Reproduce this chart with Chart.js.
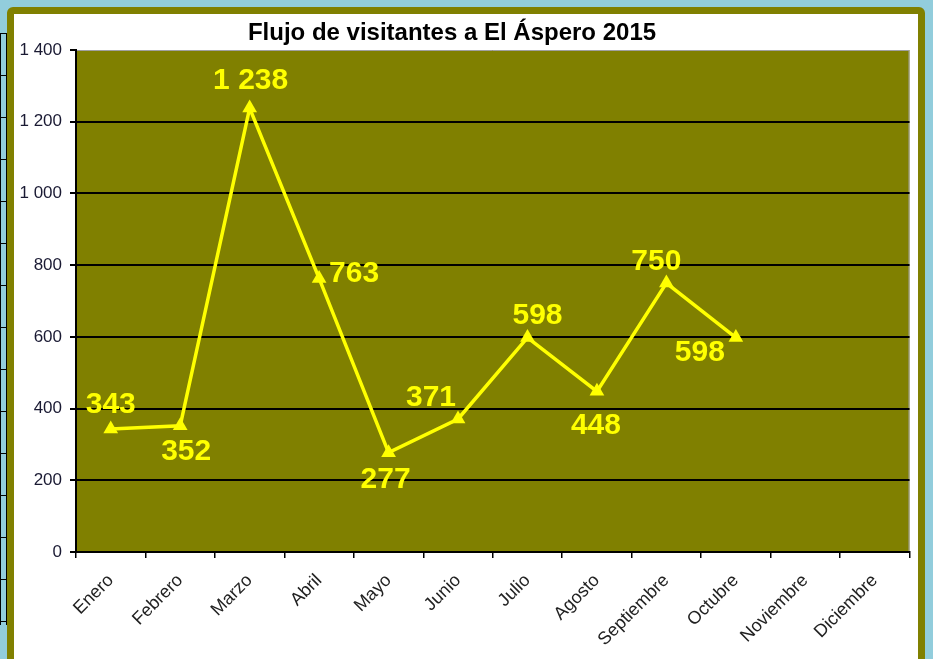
<!DOCTYPE html>
<html lang="es">
<head>
  <meta charset="UTF-8">
  <title>Flujo de visitantes a El Áspero 2015</title>
  <script src="https://cdn.jsdelivr.net/npm/chart.js"></script>
  <style>
    html, body {
      margin: 0;
      padding: 0;
      width: 933px;
      height: 659px;
      overflow: hidden;
      background: #92cddc;
      font-family: "Liberation Sans", Arial, sans-serif;
    }
    /* tira de tabla a la izquierda */
    #strip {
      position: absolute;
      left: 0;
      top: 33px;
      width: 5px;
      height: 592px;
      border-left: 1px solid #000;
      border-right: 1px solid #000;
      background: repeating-linear-gradient(to bottom, #000 0px, #000 1px, transparent 1px, transparent 42px);
    }
    #frame {
      position: absolute;
      left: 7px;
      top: 7px;
      width: 904px;
      height: 700px;
      border: 7px solid #808000;
      border-radius: 6px;
      background: #fff;
    }
    #chart {
      position: absolute;
      left: 14px;
      top: 14px;
    }
  </style>
</head>
<body>
  <div id="strip"></div>
  <div id="frame"></div>
  <canvas id="chart" width="904" height="645"></canvas>

  <script>
    // Datos del gráfico
    const meses = ["Enero", "Febrero", "Marzo", "Abril", "Mayo", "Junio", "Julio",
                   "Agosto", "Septiembre", "Octubre", "Noviembre", "Diciembre"];
    const visitantes = [343, 352, 1238, 763, 277, 371, 598, 448, 750, 598, null, null];
    const ejeY = { min: 0, max: 1400, paso: 200 };

    // separador de miles con espacio (1 400)
    const formato = v => String(v).replace(/\B(?=(\d{3})+(?!\d))/g, " ");

    // desplazamiento de cada etiqueta respecto a su punto (px)
    const desplazamientos = [
      [0, -24], [6, 26], [1, -27], [35, -5], [-3, 27],
      [-27, -21], [10, -22], [-1, 34], [-10, -21], [-36, 15]
    ];

    const fondoPlot = {
      id: "fondoPlot",
      beforeDraw(chart) {
        const { ctx, chartArea: a } = chart;
        ctx.save();
        ctx.fillStyle = "#808000";
        ctx.fillRect(a.left, a.top, a.right - a.left, a.bottom - a.top);
        ctx.strokeStyle = "#a0a0a0";
        ctx.lineWidth = 1;
        ctx.beginPath();
        ctx.moveTo(a.left, a.top + 0.5);
        ctx.lineTo(a.right - 0.5, a.top + 0.5);
        ctx.lineTo(a.right - 0.5, a.bottom);
        ctx.stroke();
        // título
        ctx.fillStyle = "#000";
        ctx.font = "bold 24px 'Liberation Sans', Arial, sans-serif";
        ctx.textAlign = "center";
        ctx.textBaseline = "middle";
        ctx.fillText("Flujo de visitantes a El Áspero 2015", chart.width / 2 - 14, 19);
        ctx.restore();
      }
    };

    const etiquetas = {
      id: "etiquetas",
      afterDatasetsDraw(chart) {
        const { ctx } = chart;
        const meta = chart.getDatasetMeta(0);
        ctx.save();
        ctx.fillStyle = "#ffff00";
        ctx.font = "bold 30px 'Liberation Sans', Arial, sans-serif";
        ctx.textAlign = "center";
        ctx.textBaseline = "middle";
        meta.data.forEach((pt, i) => {
          const v = visitantes[i];
          if (v === null || !desplazamientos[i]) return;
          const [dx, dy] = desplazamientos[i];
          ctx.fillText(formato(v), pt.x + dx, pt.y + dy);
        });
        ctx.restore();
      }
    };

    new Chart(document.getElementById("chart"), {
      type: "line",
      data: {
        labels: meses,
        datasets: [{
          data: visitantes,
          borderColor: "#ffff00",
          backgroundColor: "#ffff00",
          borderWidth: 3.5,
          pointStyle: "triangle",
          pointRadius: 8.5,
          pointBorderWidth: 0,
          tension: 0,
          spanGaps: false
        }]
      },
      options: {
        responsive: false,
        animation: false,
        layout: { padding: { top: 36, right: 8, left: 0, bottom: 0 } },
        plugins: {
          legend: { display: false },
          title: { display: false },
          tooltip: { enabled: false }
        },
        scales: {
          x: {
            offset: true,
            afterFit(s) { s.height = 107; },
            grid: {
              offset: true,
              drawOnChartArea: false,
              drawTicks: true,
              tickLength: 6,
              color: "#000",
              lineWidth: 1.5
            },
            border: { color: "#000", width: 2 },
            ticks: {
              autoSkip: false,
              maxRotation: 45,
              minRotation: 45,
              padding: 12,
              color: "#222",
              font: { family: "'Liberation Sans', Arial, sans-serif", size: 18 }
            }
          },
          y: {
            min: ejeY.min,
            max: ejeY.max,
            afterFit(s) { s.width = 62; },
            grid: {
              color: c => (c.tick && c.tick.value === ejeY.max) ? "rgba(0,0,0,0)" : "#000",
              tickColor: "#000",
              lineWidth: 2,
              tickLength: 6
            },
            border: { color: "#000", width: 2 },
            ticks: {
              stepSize: ejeY.paso,
              padding: 8,
              color: "#1a1a33",
              font: { family: "'Liberation Sans', Arial, sans-serif", size: 17 },
              callback: v => formato(v)
            }
          }
        }
      },
      plugins: [fondoPlot, etiquetas]
    });
  </script>
</body>
</html>
